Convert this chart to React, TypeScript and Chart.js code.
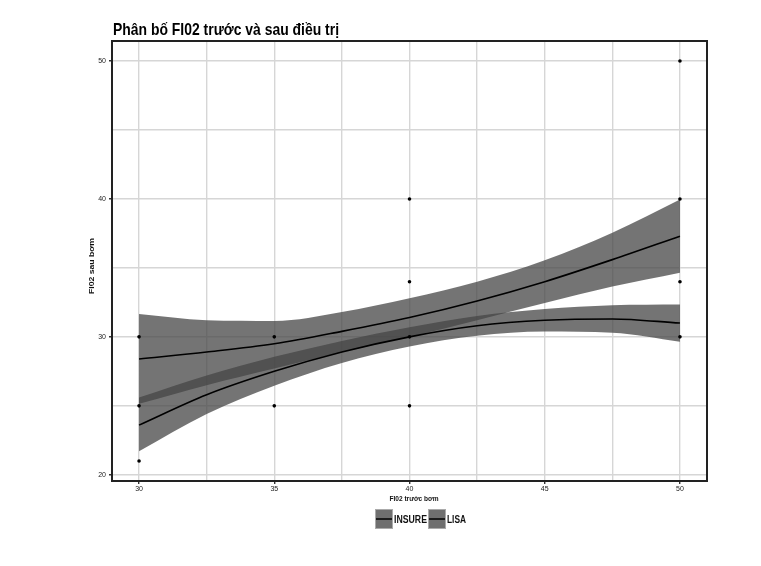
import React, { useEffect, useRef } from 'react';
import { Chart, registerables } from 'chart.js';

Chart.register(...registerables);

// ---- Data ----
const titleText = 'Phân bố FI02 trước và sau điều trị';
const xAxisTitle = 'FI02 trước bơm';
const yAxisTitle = 'FI02 sau bơm';
const groupNames = ['INSURE', 'LISA'];

// observed points
const obsX = [30, 30, 30, 35, 35, 40, 40, 40, 40, 50, 50, 50, 50];
const obsY = [30, 25, 21, 30, 25, 40, 34, 30, 25, 50, 40, 34, 30];

// smooth fits (read at each x)
const fitX = [30, 32.5, 35, 37.5, 40, 42.5, 45, 47.5, 50];
const insureFit = [28.4, 28.9, 29.5, 30.4, 31.4, 32.6, 34.0, 35.6, 37.3];
const insureLow = [25.15, 26.5, 27.7, 28.9, 30.0, 31.2, 32.45, 33.65, 34.65];
const insureHigh = [31.65, 31.2, 31.15, 31.8, 32.8, 34.0, 35.55, 37.55, 39.95];
const lisaFit = [23.6, 25.8, 27.5, 28.9, 30.0, 30.8, 31.2, 31.3, 31.0];
const lisaLow = [21.7, 24.4, 26.45, 28.1, 29.3, 30.08, 30.38, 30.3, 29.65];
const lisaHigh = [25.6, 27.2, 28.55, 29.7, 30.7, 31.52, 32.02, 32.3, 32.35];

// axes
const xMin = 29;
const xMax = 51;
const yMin = 19.55;
const yMax = 51.45;
const xGridValues = [30, 32.5, 35, 37.5, 40, 42.5, 45, 47.5, 50];
const xTickValues = [30, 35, 40, 45, 50];
const xTickLabels = ['30', '35', '40', '45', '50'];
const yGridValues = [20, 25, 30, 35, 40, 45, 50];
const yTickValues = [20, 30, 40, 50];
const yTickLabels = ['20', '30', '40', '50'];

const FONT = '"Liberation Sans", Arial, sans-serif';
const RIBBON = 'rgba(70,70,70,0.75)';
const GRID = '#d6d6d6';

const pts = (xs: number[], ys: number[]) => xs.map((x, i) => ({ x, y: ys[i] }));

function drawText(
  ctx: CanvasRenderingContext2D,
  text: string,
  x: number,
  y: number,
  font: string,
  align: CanvasTextAlign,
  width: number,
  rotate = 0
) {
  ctx.save();
  ctx.font = font;
  const w = ctx.measureText(text).width;
  const sx = width / w;
  ctx.translate(x, y);
  if (rotate) ctx.rotate(rotate);
  ctx.scale(sx, 1);
  ctx.textAlign = align;
  ctx.textBaseline = 'middle';
  ctx.fillStyle = '#111';
  ctx.fillText(text, 0, 0);
  ctx.restore();
}

const decorPlugin = {
  id: 'decor',
  afterDraw(chart: any) {
    const ctx: CanvasRenderingContext2D = chart.ctx;
    const a = chart.chartArea;
    // panel border
    ctx.save();
    ctx.strokeStyle = '#222';
    ctx.lineWidth = 2;
    ctx.strokeRect(a.left, a.top, a.right - a.left, a.bottom - a.top);
    ctx.restore();
    // title
    ctx.save();
    ctx.font = `bold 17px ${FONT}`;
    const tw = ctx.measureText(titleText).width;
    ctx.translate(a.left + 1, 30);
    ctx.scale(226 / tw, 1);
    ctx.textAlign = 'left';
    ctx.textBaseline = 'middle';
    ctx.fillStyle = '#000';
    ctx.fillText(titleText, 0, 0);
    ctx.restore();
    // axis titles
    drawText(ctx, xAxisTitle, 414, 499, `bold 8px ${FONT}`, 'center', 49);
    drawText(ctx, yAxisTitle, 92, 266, `bold 8px ${FONT}`, 'center', 56, -Math.PI / 2);
    // legend
    const boxW = 18;
    const boxH = 20;
    const top = 509;
    const items = [
      { x: 375, label: groupNames[0], tw: 33 },
      { x: 428, label: groupNames[1], tw: 19 },
    ];
    items.forEach((it) => {
      ctx.save();
      ctx.fillStyle = '#6f6f6f';
      ctx.fillRect(it.x, top, boxW, boxH);
      ctx.strokeStyle = '#aaa';
      ctx.lineWidth = 1;
      ctx.strokeRect(it.x + 0.5, top + 0.5, boxW - 1, boxH - 1);
      ctx.strokeStyle = '#000';
      ctx.lineWidth = 1.5;
      ctx.beginPath();
      ctx.moveTo(it.x + 1, top + boxH / 2);
      ctx.lineTo(it.x + boxW - 1, top + boxH / 2);
      ctx.stroke();
      ctx.restore();
      drawText(ctx, it.label, it.x + boxW + 1, top + boxH / 2 + 1, `bold 10px ${FONT}`, 'left', it.tw);
    });
  },
};

export default function App() {
  const ref = useRef<HTMLCanvasElement | null>(null);
  useEffect(() => {
    if (!ref.current) return;
    const ribbon = (low: number[], high: number[], ord: number, label: string) => [
      {
        label: label + ' low',
        data: pts(fitX, low),
        borderWidth: 0,
        pointRadius: 0,
        fill: false,
        cubicInterpolationMode: 'monotone' as const,
        order: ord,
      },
      {
        label: label + ' high',
        data: pts(fitX, high),
        borderWidth: 0,
        pointRadius: 0,
        fill: '-1',
        backgroundColor: RIBBON,
        cubicInterpolationMode: 'monotone' as const,
        order: ord,
      },
    ];
    const line = (ys: number[], label: string) => ({
      label,
      data: pts(fitX, ys),
      borderColor: '#000',
      borderWidth: 1.6,
      pointRadius: 0,
      fill: false,
      cubicInterpolationMode: 'monotone' as const,
      order: 2,
    });
    const chart = new Chart(ref.current, {
      type: 'line',
      data: {
        datasets: [
          {
            label: 'obs',
            data: pts(obsX, obsY),
            showLine: false,
            pointRadius: 1.8,
            pointBackgroundColor: '#000',
            pointBorderWidth: 0,
            order: 1,
          },
          line(insureFit, groupNames[0]),
          line(lisaFit, groupNames[1]),
          ...ribbon(insureLow, insureHigh, 4, groupNames[0]),
          ...ribbon(lisaLow, lisaHigh, 3, groupNames[1]),
        ] as any,
      },
      options: {
        animation: false,
        responsive: false,
        devicePixelRatio: 1,
        layout: { padding: { top: 41, right: 54, bottom: 0, left: 0 } },
        plugins: { legend: { display: false }, title: { display: false }, tooltip: { enabled: false } },
        scales: {
          x: {
            type: 'linear',
            min: xMin,
            max: xMax,
            afterBuildTicks: (s: any) => {
              s.ticks = xGridValues.map((v) => ({ value: v }));
            },
            afterFit: (s: any) => {
              s.height = 85;
            },
            ticks: {
              autoSkip: false,
              maxRotation: 0,
              padding: 1,
              color: '#222',
              font: { size: 7, family: FONT },
              callback: (v: any) => {
                const i = xTickValues.indexOf(Number(v));
                return i >= 0 ? xTickLabels[i] : '';
              },
            },
            grid: {
              color: GRID,
              lineWidth: 1.4,
              tickLength: 3,
              tickColor: (c: any) => (xTickValues.includes(c.tick?.value) ? '#333' : 'rgba(0,0,0,0)'),
            },
            border: { display: true, color: '#222', width: 2 },
          },
          y: {
            type: 'linear',
            min: yMin,
            max: yMax,
            afterBuildTicks: (s: any) => {
              s.ticks = yGridValues.map((v) => ({ value: v }));
            },
            afterFit: (s: any) => {
              s.width = 112;
            },
            ticks: {
              autoSkip: false,
              padding: 3,
              color: '#222',
              font: { size: 7, family: FONT },
              callback: (v: any) => {
                const i = yTickValues.indexOf(Number(v));
                return i >= 0 ? yTickLabels[i] : '';
              },
            },
            grid: {
              color: GRID,
              lineWidth: 1.4,
              tickLength: 3,
              tickColor: (c: any) => (yTickValues.includes(c.tick?.value) ? '#333' : 'rgba(0,0,0,0)'),
            },
            border: { display: true, color: '#222', width: 2 },
          },
        },
      } as any,
      plugins: [decorPlugin],
    });
    return () => chart.destroy();
  }, []);
  return (
    <div style={{ position: 'fixed', left: 0, top: 0, width: 761, height: 566, background: '#fff' }}>
      <canvas ref={ref} width={761} height={566} />
    </div>
  );
}
